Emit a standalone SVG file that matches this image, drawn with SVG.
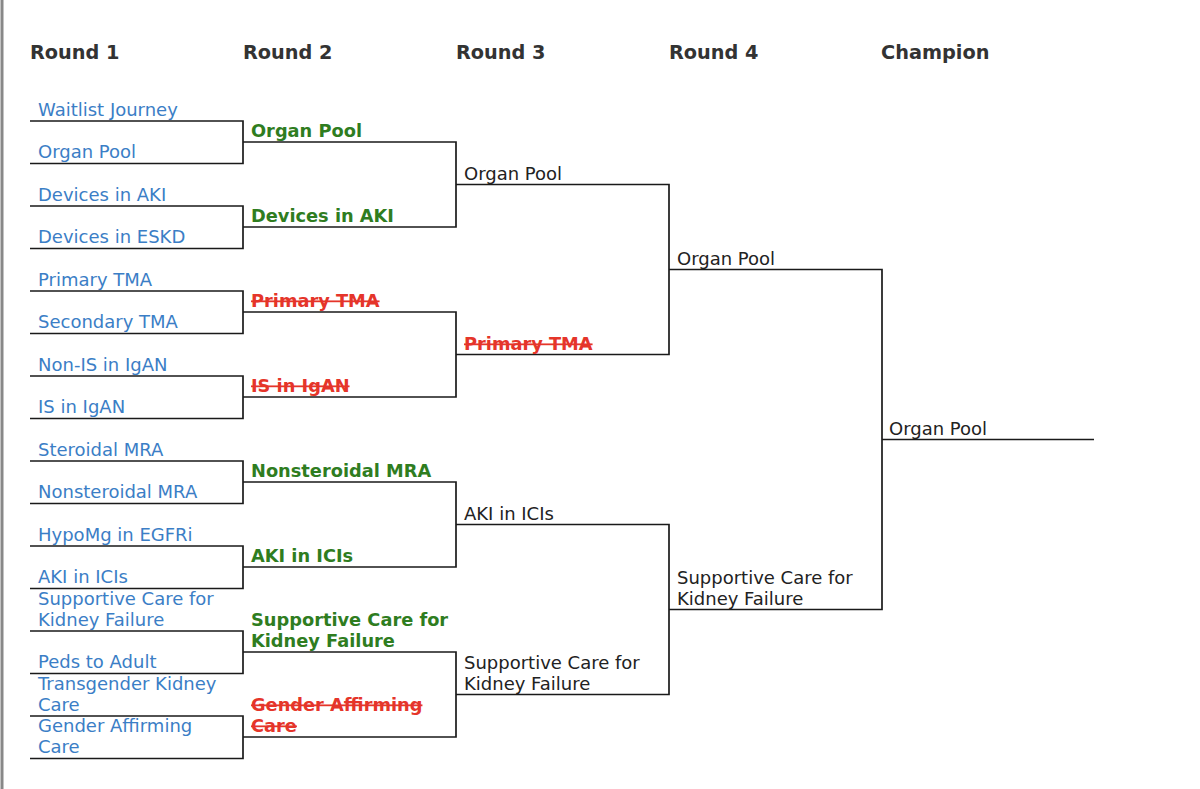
<svg xmlns="http://www.w3.org/2000/svg" width="1200" height="789" viewBox="0 0 1200 789">
<style>
text{font-family:"DejaVu Sans","Noto Sans",sans-serif;font-size:18px}
.h{font-weight:bold;font-size:19.3px;fill:#333}
.r1{fill:#3b7ec6}
.w{font-weight:bold;font-size:17.8px;fill:#2f7d1f}
.l{font-weight:bold;font-size:17.8px;fill:#e5352a;text-decoration:line-through}
.n{fill:#222}
.c path{fill:none;stroke:#1a1a1a;stroke-width:1.7}
</style>
<rect width="1200" height="789" fill="#fff"/>
<line x1="2" y1="0" x2="2" y2="789" stroke="#888" stroke-width="3"/>
<g id="headers">
<text class="h" x="30" y="59">Round 1</text>
<text class="h" x="243" y="59">Round 2</text>
<text class="h" x="456" y="59">Round 3</text>
<text class="h" x="669" y="59">Round 4</text>
<text class="h" x="881" y="59">Champion</text>
</g>
<g id="connectors" class="c">
<path d="M30 121H243V163.5H30M30 206H243V248.5H30M30 291H243V333.5H30M30 376H243V418.5H30M30 461H243V503.5H30M30 546H243V588.5H30M30 631H243V673.5H30M30 716H243V758.5H30"/>
<path d="M243 142H456V227H243M243 312H456V397H243M243 482H456V567H243M243 652H456V737H243"/>
<path d="M456 184.5H669V354.5H456M456 524.5H669V694.5H456"/>
<path d="M669 269.5H882V609.5H669"/>
<path d="M882 439.5H1094"/>
</g>
<g id="round1">
<text class="r1" x="38" y="116">Waitlist Journey</text>
<text class="r1" x="38" y="158">Organ Pool</text>
<text class="r1" x="38" y="201">Devices in AKI</text>
<text class="r1" x="38" y="243">Devices in ESKD</text>
<text class="r1" x="38" y="286">Primary TMA</text>
<text class="r1" x="38" y="328">Secondary TMA</text>
<text class="r1" x="38" y="371">Non-IS in IgAN</text>
<text class="r1" x="38" y="413">IS in IgAN</text>
<text class="r1" x="38" y="456">Steroidal MRA</text>
<text class="r1" x="38" y="498">Nonsteroidal MRA</text>
<text class="r1" x="38" y="541">HypoMg in EGFRi</text>
<text class="r1" x="38" y="583">AKI in ICIs</text>
<text class="r1" x="38" y="605">Supportive Care for</text>
<text class="r1" x="38" y="626">Kidney Failure</text>
<text class="r1" x="38" y="668">Peds to Adult</text>
<text class="r1" x="38" y="690">Transgender Kidney</text>
<text class="r1" x="38" y="711">Care</text>
<text class="r1" x="38" y="732">Gender Affirming</text>
<text class="r1" x="38" y="753">Care</text>
</g>
<g id="round2">
<text class="w" x="251" y="137">Organ Pool</text>
<text class="w" x="251" y="222">Devices in AKI</text>
<text class="l" x="251" y="307">Primary TMA</text>
<text class="l" x="251" y="392">IS in IgAN</text>
<text class="w" x="251" y="477">Nonsteroidal MRA</text>
<text class="w" x="251" y="562">AKI in ICIs</text>
<text class="w" x="251" y="626">Supportive Care for</text>
<text class="w" x="251" y="647">Kidney Failure</text>
<text class="l" x="251" y="711">Gender Affirming</text>
<text class="l" x="251" y="732">Care</text>
</g>
<g id="round3">
<text class="n" x="464" y="180">Organ Pool</text>
<text class="l" x="464" y="350">Primary TMA</text>
<text class="n" x="464" y="520">AKI in ICIs</text>
<text class="n" x="464" y="669">Supportive Care for</text>
<text class="n" x="464" y="690">Kidney Failure</text>
</g>
<g id="round4">
<text class="n" x="677" y="265">Organ Pool</text>
<text class="n" x="677" y="584">Supportive Care for</text>
<text class="n" x="677" y="605">Kidney Failure</text>
</g>
<g id="champion">
<text class="n" x="889" y="435">Organ Pool</text>
</g>
</svg>
